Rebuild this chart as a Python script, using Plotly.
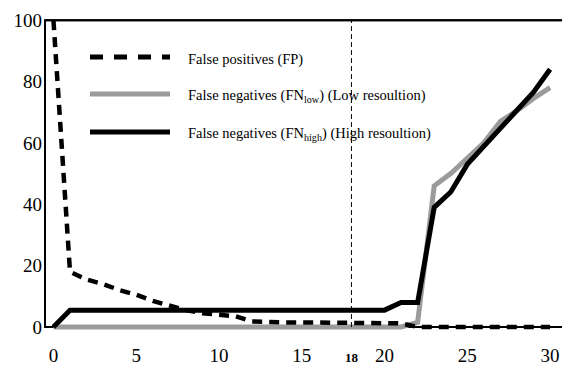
import plotly.graph_objects as go

x_vals = list(range(0, 31))
fp = [100, 18, 15.5, 14, 12, 10.5, 8.5, 7, 5.5, 4.5, 4, 3.5, 1.8, 1.5, 1.5, 1.5, 1.5, 1.5, 1.5, 1.5, 1.5, 1.2, 0, 0, 0, 0, 0, 0, 0, 0, 0]
fn_low = [0]*21 + [0, 1.5, 46, 50, 55, 60, 67, 70.5, 74.5, 78]
fn_high = [0] + [5.5]*20 + [8, 8, 39, 44, 53, 59, 65, 70.5, 76.5, 84]
threshold = 18

x_ticks = [0, 5, 10, 15, 18, 20, 25, 30]
x_ticktext = ["0", "5", "10", "15", "<b><span style='font-size:13px'>18</span></b>", "20", "25", "30"]
y_ticks = [0, 20, 40, 60, 80, 100]
x_range = [-0.51, 30.72]
y_range = [-1.3, 100.7]
y_top = 100

series_names = [
    "False positives (FP)",
    "False negatives (FN<sub>low</sub>) (Low resoultion)",
    "False negatives (FN<sub>high</sub>) (High resoultion)",
]

GRAY = "#9b9b9b"
FONT = "Liberation Serif"

fig = go.Figure()
fig.add_trace(go.Scatter(x=x_vals, y=fn_low, mode="lines", line=dict(color=GRAY, width=5), showlegend=False))
fig.add_trace(go.Scatter(x=x_vals, y=fn_high, mode="lines", line=dict(color="black", width=5), showlegend=False))
fig.add_trace(go.Scatter(x=x_vals, y=fp, mode="lines", line=dict(color="black", width=4.5, dash="10px,7px"), showlegend=False))
# top frame line of the plot area (along the axis maximum)
fig.add_trace(go.Scatter(x=x_range, y=[y_top, y_top], mode="lines", line=dict(color="black", width=2),
                         showlegend=False, hoverinfo="skip"))

W, H, L, T = 517.0, 313.0, 45.0, 18.0
def px(xp):
    return (xp - L) / W
def py(yp):
    return (T + H - yp) / H

shapes = [
    dict(type="line", xref="paper", yref="y", x0=0, x1=0, y0=-0.3, y1=100.3, line=dict(color="black", width=2)),
    dict(type="line", xref="paper", yref="y", x0=0, x1=1, y0=y_top, y1=y_top, line=dict(color="black", width=2)),
    dict(type="line", xref="x", yref="y", x0=threshold, x1=threshold, y0=0, y1=100, line=dict(color="black", width=1, dash="5px,3px")),
]

rows = [57, 94, 132]
styles = [
    dict(color="black", width=5, dash="13px,11px"),
    dict(color=GRAY, width=5),
    dict(color="black", width=5),
]
annotations = []
for name, ry, st in zip(series_names, rows, styles):
    shapes.append(dict(type="line", xref="paper", yref="paper", x0=px(90), x1=px(170), y0=py(ry), y1=py(ry), line=st))
    annotations.append(dict(xref="paper", yref="paper", x=px(186), y=py(ry + 2), text=name, showarrow=False,
                            xanchor="left", yanchor="middle", font=dict(family=FONT, size=14.5, color="black")))

fig.update_layout(
    width=562, height=367,
    margin=dict(l=45, r=0, t=18, b=36),
    paper_bgcolor="white", plot_bgcolor="white",
    shapes=shapes, annotations=annotations,
    showlegend=False,
    xaxis=dict(range=x_range, tickvals=x_ticks, ticktext=x_ticktext, showgrid=False, zeroline=False,
               showline=False, ticks="", ticklabelstandoff=11, automargin=False,
               tickfont=dict(family=FONT, size=19, color="black")),
    yaxis=dict(range=y_range, tickvals=y_ticks, showgrid=False, zeroline=True, zerolinecolor="black",
               zerolinewidth=2, showline=False, ticks="", ticklabelstandoff=2, automargin=False,
               tickfont=dict(family=FONT, size=19, color="black")),
)

fig.write_html("out.html", config={"displayModeBar": False},
               post_script="document.body.style.margin='0px';document.body.style.overflow='hidden';")
